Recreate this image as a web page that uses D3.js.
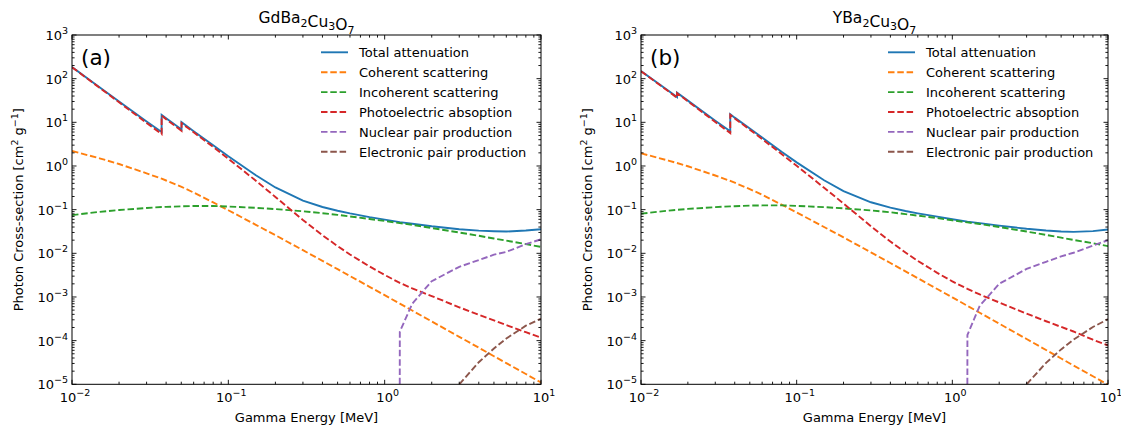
<!DOCTYPE html>
<html>
<head>
<meta charset="utf-8">
<script src="https://cdn.jsdelivr.net/npm/d3@7"></script>
<style>
  body { margin: 0; background: #fff; }
  text { font-family: "DejaVu Sans", sans-serif; fill: #000; }
</style>
</head>
<body>
<script>
// ---- data (cross-sections in cm^2/g, energy in MeV) ----

// GdBa2Cu3O7
var energyA = [0.01, 0.015, 0.02, 0.03, 0.03744, 0.03744, 0.04, 0.0502, 0.0502, 0.06, 0.08, 0.1, 0.15, 0.2, 0.3, 0.4, 0.5, 0.6, 0.8, 1, 1.25, 1.5, 2, 3, 4, 5, 6, 8, 10];
var totalA = [185.3, 63.6, 29.9, 10.5, 6.03, 14.8, 12.4, 6.85, 10.05, 6.24, 2.98, 1.67, 0.612, 0.322, 0.161, 0.115, 0.0946, 0.0822, 0.0676, 0.0592, 0.0519, 0.0477, 0.0416, 0.0356, 0.0330, 0.0320, 0.0315, 0.0332, 0.0355];
var cohA = [2.2, 1.5, 1.11, 0.68, 0.511, 0.511, 0.465, 0.333, 0.333, 0.246, 0.147, 0.097, 0.0449, 0.026, 0.0118, 0.00673, 0.00433, 0.00302, 0.00171, 0.0011, 0.000704, 0.000489, 0.000275, 0.000122, 0.000069, 0.000044, 0.0000305, 0.0000172, 0.000011];
var incohA = [0.075, 0.089, 0.098, 0.109, 0.115, 0.115, 0.116, 0.119, 0.119, 0.121, 0.121, 0.118, 0.110, 0.103, 0.092, 0.083, 0.076, 0.070, 0.061, 0.055, 0.049, 0.045, 0.038, 0.030, 0.0252, 0.0218, 0.0195, 0.0163, 0.0140];
var photoA = [183, 62, 28.7, 9.7, 5.4, 14.2, 11.8, 6.4, 9.6, 5.9, 2.73, 1.46, 0.46, 0.195, 0.058, 0.026, 0.0146, 0.0094, 0.0050, 0.0032, 0.0021, 0.00157, 0.00105, 0.00058, 0.00039, 0.00029, 0.000227, 0.000156, 0.000117];

// YBa2Cu3O7
var energyB = [0.01, 0.015, 0.01704, 0.01704, 0.02, 0.03, 0.03744, 0.03744, 0.04, 0.05, 0.06, 0.08, 0.1, 0.15, 0.2, 0.3, 0.4, 0.5, 0.6, 0.8, 1, 1.25, 1.5, 2, 3, 4, 5, 6, 8, 10];
var totalB = [150, 52.6, 37.9, 47.8, 31.4, 10.9, 6.25, 15.4, 12.8, 7.2, 4.48, 2.11, 1.21, 0.47, 0.267, 0.1475, 0.111, 0.093, 0.0822, 0.069, 0.0602, 0.0533, 0.0492, 0.043, 0.0364, 0.0332, 0.0316, 0.0309, 0.0323, 0.035];
var cohB = [1.95, 1.33, 1.17, 1.17, 0.985, 0.606, 0.455, 0.455, 0.414, 0.296, 0.219, 0.1305, 0.0864, 0.040, 0.0232, 0.0105, 0.0060, 0.00386, 0.00269, 0.00152, 0.00098, 0.000627, 0.000436, 0.000245, 0.000109, 0.000061, 0.000039, 0.000027, 0.0000153, 0.0000098];
var incohB = [0.081, 0.095, 0.099, 0.099, 0.104, 0.114, 0.119, 0.119, 0.120, 0.124, 0.125, 0.125, 0.122, 0.114, 0.107, 0.096, 0.087, 0.079, 0.073, 0.064, 0.057, 0.051, 0.047, 0.040, 0.0315, 0.0264, 0.0228, 0.0203, 0.017, 0.0146];
var photoB = [148, 51.2, 36.6, 46.5, 30.3, 10.2, 5.66, 14.8, 12.3, 6.78, 4.15, 1.87, 1.01, 0.318, 0.138, 0.0417, 0.0186, 0.0104, 0.0067, 0.00356, 0.00228, 0.00153, 0.00114, 0.00075, 0.000416, 0.000278, 0.000206, 0.000162, 0.000105, 0.000078];

// pair production (zero at threshold)
var pairEnergy = [1.022, 1.25, 1.5, 2, 3, 4, 5, 6, 8, 10];
var nucA = [0, 1.6e-4, 7.0e-4, 2.3e-3, 4.9e-3, 7.0e-3, 9.3e-3, 1.08e-2, 1.62e-2, 2.09e-2];
var nucB = [0, 1.35e-4, 6.3e-4, 2.0e-3, 4.4e-3, 6.4e-3, 8.5e-3, 1.03e-2, 1.5e-2, 2.0e-2];
var elecEnergy = [2.044, 3, 4, 5, 6, 8, 10];
var elecA = [0, 1.0e-5, 3.2e-5, 6.6e-5, 1.12e-4, 2.2e-4, 3.2e-4];
var elecB = [0, 1.0e-5, 3.1e-5, 6.3e-5, 1.05e-4, 2.05e-4, 3.1e-4];

var seriesNames = ['Total attenuation', 'Coherent scattering', 'Incoherent scattering', 'Photoelectric absoption', 'Nuclear pair production', 'Electronic pair production'];
var seriesColors = ['#1f77b4', '#ff7f0e', '#2ca02c', '#d62728', '#9467bd', '#8c564b'];

var xTicks = [1e-2, 1e-1, 1e0, 1e1];
var yTicks = [1e-5, 1e-4, 1e-3, 1e-2, 1e-1, 1e0, 1e1, 1e2, 1e3];

// ---- drawing ----
var W = 1121, H = 427;
var svg = d3.select('body').append('svg').attr('width', W).attr('height', H);

function zip(xs, ys) {
  return xs.map(function(x, i) { return [x, ys[i]]; });
}

// writes "10^k" as tspans
function powLabel(sel, k) {
  sel.append('tspan').text('10');
  sel.append('tspan').attr('dy', -6).attr('font-size', 9.5)
    .text(k < 0 ? '\u2212' + (-k) : String(k));
}

function drawPanel(opt) {
  var left = opt.left, right = opt.right, top = 35, bottom = 384.3;
  var x = d3.scaleLog().domain([1e-2, 10]).range([left, right]);
  var y = d3.scaleLog().domain([1e-5, 1e3]).range([bottom, top]);
  var g = svg.append('g');

  var clipId = 'clip' + opt.tag;
  svg.append('clipPath').attr('id', clipId)
    .append('rect').attr('x', left).attr('y', top)
    .attr('width', right - left).attr('height', bottom - top);

  // log scale: non-positive values clipped far below (like matplotlib)
  var line = d3.line()
    .x(function(d) { return x(d[0]); })
    .y(function(d) { return y(d[1] > 0 ? d[1] : 1e-300); });

  var series = [
    { data: zip(opt.energy, opt.total), dash: null },
    { data: zip(opt.energy, opt.coh), dash: '6.5,2.8' },
    { data: zip(opt.energy, opt.incoh), dash: '6.5,2.8' },
    { data: zip(opt.energy, opt.photo), dash: '6.5,2.8' },
    { data: zip(pairEnergy, opt.nuc), dash: '6.5,2.8' },
    { data: zip(elecEnergy, opt.elec), dash: '6.5,2.8' }
  ];

  var plot = g.append('g').attr('clip-path', 'url(#' + clipId + ')');
  series.forEach(function(s, i) {
    plot.append('path')
      .attr('d', line(s.data))
      .attr('fill', 'none')
      .attr('stroke', seriesColors[i])
      .attr('stroke-width', 1.9)
      .attr('stroke-dasharray', s.dash);
  });

  // minor tick positions
  var xMinor = [], yMinor = [];
  for (var k = -2; k < 1; k++) for (var m = 2; m < 10; m++) xMinor.push(m * Math.pow(10, k));
  for (var k2 = -5; k2 < 3; k2++) for (var m2 = 2; m2 < 10; m2++) yMinor.push(m2 * Math.pow(10, k2));

  var ticks = g.append('g').attr('stroke', '#000').attr('stroke-width', 0.9);
  function tick(x1, y1, x2, y2) {
    ticks.append('line').attr('x1', x1).attr('y1', y1).attr('x2', x2).attr('y2', y2);
  }
  xTicks.forEach(function(v) { tick(x(v), bottom, x(v), bottom - 4.5); tick(x(v), top, x(v), top + 4.5); });
  xMinor.forEach(function(v) { tick(x(v), bottom, x(v), bottom - 2.6); tick(x(v), top, x(v), top + 2.6); });
  yTicks.forEach(function(v) { tick(left, y(v), left + 4.5, y(v)); tick(right, y(v), right - 4.5, y(v)); });
  yMinor.forEach(function(v) { tick(left, y(v), left + 2.6, y(v)); tick(right, y(v), right - 2.6, y(v)); });

  // frame
  g.append('rect').attr('x', left).attr('y', top)
    .attr('width', right - left).attr('height', bottom - top)
    .attr('fill', 'none').attr('stroke', '#000').attr('stroke-width', 1);

  // tick labels
  xTicks.forEach(function(v) {
    var t = g.append('text').attr('x', x(v) + 3).attr('y', bottom + 18)
      .attr('text-anchor', 'middle').attr('font-size', 13);
    powLabel(t, Math.round(Math.log10(v)));
  });
  yTicks.forEach(function(v) {
    var t = g.append('text').attr('x', left - 4).attr('y', y(v) + 5)
      .attr('text-anchor', 'end').attr('font-size', 13);
    powLabel(t, Math.round(Math.log10(v)));
  });

  // axis labels
  g.append('text').attr('x', (left + right) / 2).attr('y', 422)
    .attr('text-anchor', 'middle').attr('font-size', 13).text('Gamma Energy [MeV]');

  var yl = g.append('text')
    .attr('transform', 'translate(' + (left - 49) + ',' + ((top + bottom) / 2) + ') rotate(-90)')
    .attr('text-anchor', 'middle').attr('font-size', 13);
  yl.append('tspan').text('Photon Cross-section [cm');
  yl.append('tspan').attr('dy', -5).attr('font-size', 9.5).text('2');
  yl.append('tspan').attr('dy', 5).text(' g');
  yl.append('tspan').attr('dy', -5).attr('font-size', 9.5).text('\u22121');
  yl.append('tspan').attr('dy', 5).text(']');

  // title with subscripts
  var tt = g.append('text').attr('x', (left + right) / 2).attr('y', 23)
    .attr('text-anchor', 'middle').attr('font-size', 15.5);
  opt.title.forEach(function(p) {
    if (p.sub) {
      tt.append('tspan').attr('dy', 3.5).attr('font-size', 11).text(p.t);
      tt.append('tspan').attr('dy', -3.5).text('');
    } else {
      tt.append('tspan').text(p.t);
    }
  });

  // panel letter
  g.append('text').attr('x', left + 9).attr('y', top + 30)
    .attr('font-size', 21.5).text(opt.letter);

  // legend
  var lg = g.append('g');
  seriesNames.forEach(function(name, i) {
    var ry = top + 17.3 + i * 19.9;
    lg.append('line').attr('x1', right - 220).attr('x2', right - 193)
      .attr('y1', ry).attr('y2', ry)
      .attr('stroke', seriesColors[i]).attr('stroke-width', 1.9)
      .attr('stroke-dasharray', i === 0 ? null : '6.5,2.8');
    lg.append('text').attr('x', right - 182).attr('y', ry + 4.7)
      .attr('font-size', 13).text(name);
  });
}

drawPanel({
  tag: 'a', left: 72, right: 541, letter: '(a)',
  title: [{ t: 'GdBa' }, { t: '2', sub: true }, { t: 'Cu' }, { t: '3', sub: true }, { t: 'O' }, { t: '7', sub: true }],
  energy: energyA, total: totalA, coh: cohA, incoh: incohA, photo: photoA, nuc: nucA, elec: elecA
});

drawPanel({
  tag: 'b', left: 641, right: 1108, letter: '(b)',
  title: [{ t: 'YBa' }, { t: '2', sub: true }, { t: 'Cu' }, { t: '3', sub: true }, { t: 'O' }, { t: '7', sub: true }],
  energy: energyB, total: totalB, coh: cohB, incoh: incohB, photo: photoB, nuc: nucB, elec: elecB
});
</script>
</body>
</html>
